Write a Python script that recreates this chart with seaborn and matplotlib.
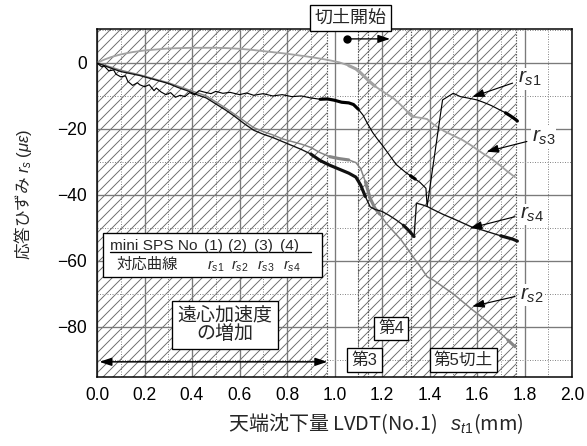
import pandas as pd
import matplotlib.pyplot as plt
import seaborn as sns
from matplotlib.patches import Rectangle

# strain curves r_s1..r_s4 vs crest settlement s_t1 (mm)
rs1_x = [0.00, 0.02, 0.03, 0.05, 0.07, 0.08, 0.10, 0.12, 0.13, 0.15, 0.17, 0.18, 0.20, 0.22, 0.24,
         0.25, 0.27, 0.29, 0.31, 0.33, 0.35, 0.37, 0.39, 0.41, 0.43, 0.45, 0.48, 0.50, 0.53, 0.56,
         0.60, 0.63, 0.66, 0.70, 0.74, 0.78, 0.82, 0.86, 0.90, 0.94, 0.97, 1.00, 1.03, 1.06, 1.08,
         1.10, 1.12, 1.14, 1.16, 1.18, 1.20, 1.22, 1.24, 1.26, 1.28, 1.30, 1.32, 1.34, 1.36, 1.385,
         1.39, 1.455, 1.50, 1.53, 1.56, 1.60, 1.63, 1.66, 1.69, 1.72, 1.74, 1.76, 1.77]
rs1_y = [0.0, -1.2, -0.9, -2.4, -2.1, -3.4, -4.2, -3.9, -5.6, -6.8, -6.0, -6.6, -7.2, -6.6, -8.4,
         -7.6, -8.8, -9.6, -9.0, -10.4, -9.8, -10.2, -9.0, -9.6, -8.4, -8.8, -9.3, -8.6, -9.2, -8.9,
         -9.6, -9.1, -9.8, -9.3, -10.0, -9.6, -10.2, -10.0, -10.6, -11.0, -10.9, -11.3, -11.9, -12.1, -12.6,
         -14.0, -15.8, -18.5, -21.0, -23.0, -24.8, -26.8, -28.8, -30.8, -32.0, -33.2, -34.2, -35.2, -36.2, -38.0,
         -43.5, -11.2, -9.2, -10.2, -10.6, -11.2, -12.0, -12.9, -14.0, -15.1, -16.0, -17.0, -17.6]

rs2_x = [0.00, 0.03, 0.06, 0.10, 0.14, 0.18, 0.22, 0.26, 0.30, 0.34, 0.38, 0.42, 0.46, 0.50, 0.54,
         0.58, 0.62, 0.66, 0.70, 0.74, 0.78, 0.82, 0.86, 0.90, 0.94, 0.98, 1.02, 1.06, 1.09, 1.11,
         1.13, 1.15, 1.17, 1.19, 1.22, 1.25, 1.28, 1.31, 1.33, 1.36, 1.39, 1.42, 1.46, 1.50, 1.54,
         1.58, 1.62, 1.66, 1.70, 1.73, 1.76]
rs2_y = [0.0, -0.6, -1.3, -2.2, -2.9, -3.6, -4.4, -5.2, -6.0, -7.0, -8.0, -9.0, -10.0, -11.8, -13.6,
         -15.6, -17.6, -19.6, -20.8, -21.8, -23.0, -23.8, -24.6, -25.6, -27.2, -28.4, -29.0, -29.4, -30.2, -32.0,
         -36.0, -41.0, -44.0, -45.8, -48.8, -51.2, -53.6, -56.6, -58.7, -61.6, -64.8, -66.0, -68.0, -70.0, -72.4,
         -74.8, -77.0, -79.4, -82.0, -84.0, -86.0]

rs3_x = [0.00, 0.03, 0.06, 0.10, 0.15, 0.20, 0.25, 0.30, 0.35, 0.40, 0.45, 0.50, 0.55, 0.60, 0.65,
         0.70, 0.75, 0.80, 0.85, 0.90, 0.95, 0.98, 1.02, 1.06, 1.09, 1.11, 1.13, 1.15, 1.17, 1.19,
         1.22, 1.25, 1.28, 1.31, 1.33, 1.36, 1.39, 1.42, 1.46, 1.50, 1.54, 1.58, 1.62, 1.66, 1.70,
         1.73, 1.76]
rs3_y = [0.0, 1.0, 1.8, 2.6, 3.3, 3.8, 4.1, 4.4, 4.5, 4.6, 4.6, 4.6, 4.5, 4.3, 4.0,
         3.6, 3.2, 2.8, 2.3, 1.8, 1.2, 0.8, 0.2, -0.8, -1.8, -3.0, -4.4, -5.8, -7.0, -8.0,
         -9.4, -10.8, -12.8, -15.0, -16.3, -16.6, -17.0, -18.8, -20.6, -22.0, -23.4, -25.2, -27.2, -29.0, -31.2,
         -33.0, -34.6]

rs4_x = [0.00, 0.03, 0.06, 0.10, 0.14, 0.18, 0.22, 0.26, 0.30, 0.34, 0.38, 0.42, 0.46, 0.50, 0.54,
         0.58, 0.62, 0.66, 0.70, 0.74, 0.78, 0.82, 0.86, 0.90, 0.94, 0.98, 1.02, 1.06, 1.09, 1.11,
         1.13, 1.15, 1.17, 1.20, 1.23, 1.26, 1.29, 1.31, 1.335, 1.345, 1.37, 1.39, 1.42, 1.46, 1.50,
         1.54, 1.58, 1.62, 1.66, 1.70, 1.73, 1.75, 1.77]
rs4_y = [0.0, -0.8, -1.6, -2.6, -3.2, -3.8, -4.6, -5.4, -6.2, -7.4, -8.4, -9.6, -10.6, -12.4, -14.2,
         -16.2, -18.4, -20.4, -21.6, -22.6, -23.8, -25.0, -26.2, -27.6, -29.6, -31.0, -32.2, -33.4, -34.6, -37.0,
         -40.5, -43.6, -44.4, -45.0, -46.2, -47.6, -49.2, -50.6, -52.6, -42.5, -43.0, -43.5, -44.6, -46.0, -47.2,
         -48.5, -49.8, -50.6, -51.5, -52.4, -53.0, -53.4, -54.0]

# stretches where the recorded trace is dense (drawn thicker)
rs1_dense = [(0.94, 1.10), (1.31, 1.345), (1.72, 1.77)]
rs2_dense = [(0.96, 1.06), (1.13, 1.19), (1.72, 1.76)]
rs3_dense = [(1.06, 1.17), (1.30, 1.33)]
rs4_dense = [(0.90, 1.13), (1.29, 1.335), (1.70, 1.77)]

# loading stages (hatched) and stage boundaries
stage_spans = [(0.0, 0.97), (1.10, 1.765)]
stage_lines = [0.97, 1.10, 1.14, 1.32, 1.765]

sns.set_style('white')
plt.rcParams['font.family'] = ['Liberation Sans', 'Noto Sans CJK JP', 'DejaVu Sans']
plt.rcParams['mathtext.fontset'] = 'custom'
plt.rcParams['mathtext.it'] = 'Liberation Sans:italic'
plt.rcParams['mathtext.rm'] = 'Liberation Sans'
plt.rcParams['mathtext.sf'] = 'Liberation Sans'
plt.rcParams['hatch.linewidth'] = 0.55

fig = plt.figure(figsize=(587 / 120, 446 / 120), dpi=120, facecolor='white')
ax = fig.add_axes([97 / 587, 1 - 377 / 446, 475 / 587, 348 / 446])
ax.set_xlim(0, 2.0)
ax.set_ylim(-95.2, 10.3)

for lo, hi in stage_spans:
    ax.axvspan(lo, hi, facecolor='none', edgecolor='#6a6a6a', hatch='////', lw=0, zorder=0.5)
for xv in stage_lines:
    ax.axvline(xv, color='#555555', ls=(0, (1.2, 1.2)), lw=0.7, zorder=0.6)

ax.set_xticks([i * 0.2 for i in range(11)])
ax.set_xticks([i * 0.1 for i in range(21)], minor=True)
ax.set_yticks([-80, -60, -40, -20, 0])
ax.set_yticks([-90, -80, -70, -60, -50, -40, -30, -20, -10, 0, 10], minor=True)
ax.set_xticklabels([f'{i * 0.2:.1f}' for i in range(11)])
ax.grid(which='major', color='#7a7a7a', lw=0.8, ls='-')
ax.grid(which='minor', color='#8a8a8a', lw=0.6, ls=(0, (1, 1.5)))
ax.set_axisbelow(True)
ax.tick_params(which='both', direction='in', labelsize=10.5, width=0.7, colors='black')
ax.tick_params(which='major', length=4, pad=6)
ax.tick_params(which='minor', length=3)
for sp in ax.spines.values():
    sp.set_color('black')
    sp.set_linewidth(0.9)

series = [
    (rs3_x, rs3_y, rs3_dense, '#a2a2a2', 1.1),
    (rs2_x, rs2_y, rs2_dense, '#858585', 0.9),
    (rs4_x, rs4_y, rs4_dense, '#111111', 0.8),
    (rs1_x, rs1_y, rs1_dense, '#000000', 0.7),
]
for xs, ys, dense, col, lw in series:
    df = pd.DataFrame({'x': xs, 'y': ys})
    sns.lineplot(data=df, x='x', y='y', ax=ax, color=col, lw=lw, sort=False, estimator=None, zorder=3)
    for lo, hi in dense:
        part = df[(df['x'] >= lo) & (df['x'] <= hi)]
        sns.lineplot(data=part, x='x', y='y', ax=ax, color=col, lw=1.9, sort=False, estimator=None, zorder=3)
ax.set_xlabel('')
ax.set_ylabel('')

# curve labels with pointers
labels = [
    ('$r_{s1}$', 1.823, -4.8, (1.75, -6.1), (1.58, -10.3)),
    ('$r_{s3}$', 1.88, -22.4, (1.81, -23.8), (1.64, -26.9)),
    ('$r_{s4}$', 1.83, -46.0, (1.76, -46.6), (1.57, -50.1)),
    ('$r_{s2}$', 1.83, -70.3, (1.76, -70.8), (1.58, -73.8)),
]
for txt, lx, ly, tail, head in labels:
    ax.text(lx, ly, txt, fontsize=12.5, ha='center', va='center', zorder=6,
            bbox=dict(boxstyle='square,pad=0.05', fc='white', ec='none'))
    ax.annotate('', xy=head, xytext=tail, zorder=6,
                arrowprops=dict(arrowstyle='-|>,head_length=0.6,head_width=0.2', color='black', lw=0.7,
                                shrinkA=0, shrinkB=0))

box = dict(boxstyle='square,pad=0.25', fc='white', ec='black', lw=0.8)
ax.text(1.067, 13.6, '切土開始', fontsize=10.8, ha='center', va='center', bbox=box, zorder=7, clip_on=False)
ax.plot([1.053], [7.3], 'o', color='black', ms=4, zorder=7, clip_on=False)
ax.annotate('', xy=(1.234, 7.3), xytext=(1.053, 7.3), zorder=7,
            arrowprops=dict(arrowstyle='-|>,head_length=0.6,head_width=0.2', color='black', lw=0.8,
                            shrinkA=0, shrinkB=0))

ax.text(0.539, -79.4, '遠心加速度\nの増加', fontsize=11.4, ha='center', va='center', linespacing=1.05,
        bbox=dict(boxstyle='square,pad=0.3', fc='white', ec='black', lw=0.8), zorder=7)
ax.annotate('', xy=(0.97, -90.6), xytext=(0.01, -90.6), zorder=7,
            arrowprops=dict(arrowstyle='<|-|>,head_length=0.6,head_width=0.2', color='black', lw=0.9,
                            shrinkA=0, shrinkB=0))

ax.text(1.126, -90.0, '第3', fontsize=10, ha='center', va='center', bbox=box, zorder=7)
ax.text(1.238, -80.5, '第4', fontsize=10, ha='center', va='center', bbox=box, zorder=7)
ax.text(1.543, -90.0, '第5切土', fontsize=10, ha='center', va='center', bbox=box, zorder=7)

# sensor / curve table
ax.add_patch(Rectangle((0.025, -64.8), 0.922, 13.3, fc='white', ec='black', lw=0.8, zorder=7))
ax.plot([0.055, 0.90], [-57.3, -57.3], color='black', lw=0.8, zorder=8)
ax.text(0.055, -55.6, 'mini SPS No', fontsize=9.2, ha='left', va='center', zorder=8)
ax.text(0.084, -61.0, '対応曲線', fontsize=9.2, ha='left', va='center', zorder=8)
for i, cx in enumerate([0.49, 0.59, 0.70, 0.81]):
    ax.text(cx, -55.6, f'({i + 1})', fontsize=9.2, ha='center', va='center', zorder=8)
    ax.text(cx + 0.01, -61.6, f'$r_{{s{i + 1}}}$', fontsize=9, ha='center', va='center', zorder=8)

fig.text(228 / 587, 1 - 424 / 446, '天端沈下量 LVDT(No.1)   $s_{t1}$(mm)', fontsize=12,
         ha='left', va='center', family='Noto Sans CJK JP')
fig.text(23 / 587, 1 - 194 / 446, '応答ひずみ $r_s$ $(\\mu\\varepsilon)$', fontsize=10, rotation=90,
         ha='center', va='center', family='Noto Sans CJK JP')

fig.savefig('out.png', dpi=120)
